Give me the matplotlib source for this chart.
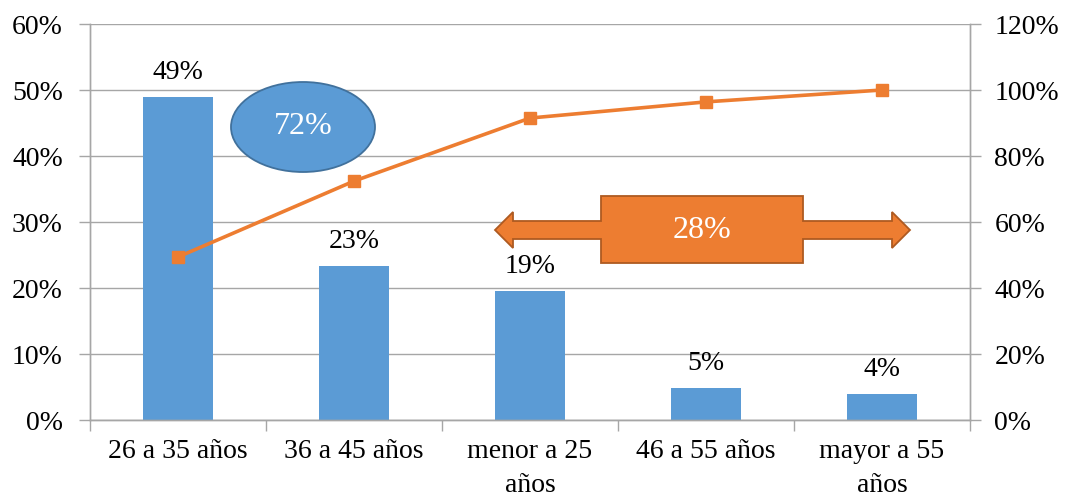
import matplotlib
matplotlib.use('Agg')
import matplotlib.pyplot as plt
from matplotlib.patches import Ellipse, Polygon
from matplotlib.ticker import FixedLocator

plt.rcParams['font.family'] = ['Liberation Serif', 'DejaVu Serif']

# data
categories = ['26 a 35 años', '36 a 45 años', 'menor a 25\naños', '46 a 55 años', 'mayor a 55\naños']
share = [48.9, 23.3, 19.5, 4.8, 3.9]
share_labels = ['49%', '23%', '19%', '5%', '4%']
cumulative = [49.4, 72.4, 91.5, 96.4, 100.0]
left_ticks = [0, 10, 20, 30, 40, 50, 60]
right_ticks = [0, 20, 40, 60, 80, 100, 120]

blue = '#5B9BD5'
orange = '#ED7D31'
grey = '#A6A6A6'
fs = 20

fig = plt.figure(figsize=(10.65, 4.99), dpi=100)
ax = fig.add_axes([90 / 1065, 1 - 420 / 499, 880 / 1065, 396 / 499])
ax2 = ax.twinx()

x = list(range(len(categories)))
ax.bar(x, share, width=0.4, color=blue, zorder=2)
for xi, v, lab in zip(x, share, share_labels):
    ax.annotate(lab, (xi, v), xytext=(0, 9), textcoords='offset points',
                ha='center', va='bottom', fontsize=fs)

ax2.plot(x, cumulative, color=orange, lw=2.6, marker='s', markersize=8.5, zorder=3)

ax.set_xlim(-0.5, len(categories) - 0.5)
ax.set_ylim(0, 60)
ax2.set_ylim(0, 120)
ax.set_yticks(left_ticks)
ax.set_yticklabels([f'{t}%' for t in left_ticks])
ax2.set_yticks(right_ticks)
ax2.set_yticklabels([f'{t}%' for t in right_ticks])
ax.set_xticks(x)
ax.set_xticklabels(categories, linespacing=1.45)
ax.xaxis.set_minor_locator(FixedLocator([i - 0.5 for i in range(len(categories) + 1)]))

ax.grid(axis='y', color=grey, lw=1, zorder=0)
ax.set_axisbelow(True)
ax.tick_params(axis='x', which='major', length=0, pad=14, labelsize=fs)
ax.tick_params(axis='x', which='minor', length=8, color=grey, width=1)
ax.tick_params(axis='y', length=8, color=grey, width=1, labelsize=fs, pad=11.5)
ax2.tick_params(axis='y', length=8, color=grey, width=1, labelsize=fs, pad=9.5)

for a in (ax, ax2):
    a.spines['top'].set_visible(False)
    for s in ('left', 'right', 'bottom'):
        a.spines[s].set_color(grey)
        a.spines[s].set_linewidth(1)


# callout shapes, placed in pixel positions of the chart area
def px(xp, yp):
    return ((xp - 90) / 176 - 0.5, (420 - yp) / 6.6)


cx, cy = px(303, 127)
ax.add_patch(Ellipse((cx, cy), 144 / 176, 90 / 6.6, facecolor=blue,
                     edgecolor='#41719C', lw=1.3, zorder=4))
ax.text(cx, cy, '72%', color='white', fontsize=23, ha='center', va='center', zorder=5)

arrow_px = [(495, 230), (513, 212), (513, 221), (601, 221), (601, 196), (803, 196),
            (803, 221), (892, 221), (892, 212), (910, 230), (892, 248), (892, 239),
            (803, 239), (803, 263), (601, 263), (601, 239), (513, 239), (513, 248)]
ax.add_patch(Polygon([px(a, b) for a, b in arrow_px], closed=True, facecolor=orange,
                     edgecolor='#AE5A21', lw=1.3, zorder=4, clip_on=False))
ax.text(*px(702, 231), '28%', color='white', fontsize=23, ha='center', va='center', zorder=5)

fig.savefig('out.png', dpi=100)
